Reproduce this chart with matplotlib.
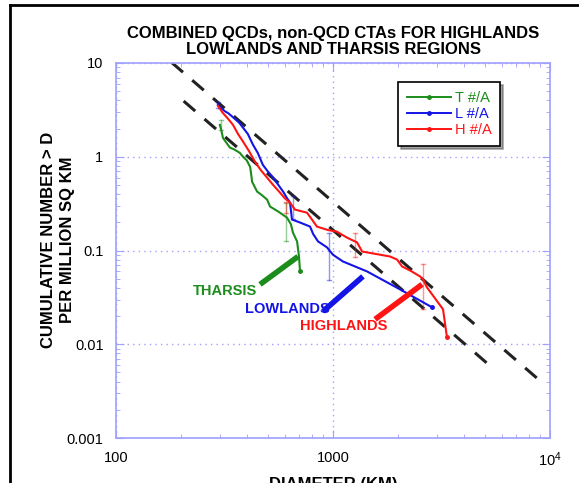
import numpy as np
import matplotlib
matplotlib.use("Agg")
import matplotlib.pyplot as plt
from matplotlib.lines import Line2D
from matplotlib.ticker import FixedLocator, FixedFormatter, LogLocator, NullFormatter

plt.rcParams['font.family'] = ['Liberation Sans', 'DejaVu Sans']

# cumulative curves (diameter km, number > D per million sq km)
t_d = [301, 306, 311, 322, 335, 350, 372, 385, 400, 415, 420, 424, 447, 470, 497, 513, 560, 614, 640,
       654, 683, 697, 705]
t_n = [2.19, 1.9, 1.59, 1.42, 1.25, 1.2, 1.10, 1.0, 0.92, 0.78, 0.64, 0.54, 0.425, 0.39, 0.349, 0.294,
       0.26, 0.224, 0.19, 0.155, 0.125, 0.0863, 0.0598]

l_d = [295, 305, 318, 330, 352, 370, 385, 405, 428, 450, 475, 500, 530, 560, 589, 610, 634, 647, 700,
       784, 810, 853, 938, 1000, 1111, 1435, 2036, 2858]
l_n = [3.57, 3.3, 3.05, 2.9, 2.55, 2.3, 2.04, 1.75, 1.34, 1.1, 0.82, 0.7, 0.6, 0.5, 0.425, 0.37, 0.324,
       0.214, 0.2, 0.18, 0.15, 0.125, 0.108, 0.09, 0.0764, 0.0598, 0.0385, 0.0248]

h_d = [295, 310, 328, 346, 365, 385, 410, 437, 465, 497, 530, 570, 600, 634, 668, 759, 800, 843, 950,
       1042, 1161, 1291, 1362, 1833, 1974, 2080, 2300, 2518, 2600, 2711, 3214, 3350]
h_n = [3.49, 2.95, 2.55, 2.19, 1.75, 1.45, 1.15, 0.885, 0.72, 0.598, 0.5, 0.414, 0.36, 0.324, 0.273,
       0.253, 0.214, 0.18, 0.165, 0.159, 0.137, 0.122, 0.0975, 0.0863, 0.080, 0.0676, 0.06, 0.0529,
       0.0491, 0.0404, 0.0236, 0.0119]

# error bars: diameter, low, high
t_err_d = [304, 607]
t_err_lo = [1.94, 0.125]
t_err_hi = [2.48, 0.324]
l_err_d = [295, 654, 959]
l_err_lo = [3.32, 0.219, 0.049]
l_err_hi = [3.85, 0.385, 0.155]
h_err_d = [607, 1262, 2600]
h_err_lo = [0.254, 0.0843, 0.0236]
h_err_hi = [0.332, 0.155, 0.071]

# reference slope -2 lines: N = C * D^-2
ref_c = [3.3e5, 1.65e5]
ref_dmin = [180, 205]
ref_dmax = [9000, 5600]

green = '#1c8c1c'
blue = '#1414e6'
red = '#ff1414'
axcol = '#a0a0ff'

fig = plt.figure(figsize=(5.79, 4.83), dpi=100)
ax = fig.add_axes([116 / 579, 1 - 438 / 483, 434 / 579, 375 / 483])
ax.set_xscale('log')
ax.set_yscale('log')
ax.set_xlim(100, 1e4)
ax.set_ylim(0.001, 10)

for c, d0, d1 in zip(ref_c, ref_dmin, ref_dmax):
    d = np.array([d0, d1], dtype=float)
    ax.plot(d, c / d ** 2, color='#222222', lw=2.2, dashes=(5, 4), zorder=2)


def errs(dd, lo, hi, col):
    for x, a, b in zip(dd, lo, hi):
        ax.plot([x, x], [a, b], color=col, lw=1, alpha=0.45, zorder=3)
        for y in (a, b):
            ax.plot([x / 1.02, x * 1.02], [y, y], color=col, lw=1, alpha=0.45, zorder=3)


errs(t_err_d, t_err_lo, t_err_hi, green)
errs(l_err_d, l_err_lo, l_err_hi, blue)
errs(h_err_d, h_err_lo, h_err_hi, red)

series = [(t_d, t_n, green, 'T #/A'), (l_d, l_n, blue, 'L #/A'), (h_d, h_n, red, 'H #/A')]
handles = []
for dd, nn, col, lab in series:
    ax.plot(dd, nn, color=col, lw=1.5, marker='o', ms=2.5, markevery=[len(dd) - 1], zorder=4)
    handles.append(Line2D([], [], color=col, lw=1.4, marker='o', ms=2.5, label=lab))

# region labels with leader lines
names = ['THARSIS', 'LOWLANDS', 'HIGHLANDS']
name_cols = [green, blue, red]
name_xy = [(318, 0.0366), (614, 0.0236), (1124, 0.0155)]
lead_a = [(461, 0.0435), (899, 0.0224), (1563, 0.01845)]
lead_b = [(690, 0.0863), (1374, 0.0529), (2573, 0.0435)]
for nm, col, xy, a, b in zip(names, name_cols, name_xy, lead_a, lead_b):
    ax.text(xy[0], xy[1], nm, color=col, fontsize=10.5, fontweight='bold', ha='center', va='center')
    ax.plot([a[0], b[0]], [a[1], b[1]], color=col, lw=4, solid_capstyle='butt', zorder=6)

ax.xaxis.set_major_locator(FixedLocator([100, 1000, 10000]))
ax.xaxis.set_major_formatter(FixedFormatter(['100', '1000', r'$\mathregular{10^4}$']))
ax.xaxis.set_minor_locator(LogLocator(base=10, subs=np.arange(2, 10)))
ax.xaxis.set_minor_formatter(NullFormatter())
ax.yaxis.set_major_locator(FixedLocator([0.001, 0.01, 0.1, 1, 10]))
ax.yaxis.set_major_formatter(FixedFormatter(['0.001', '0.01', '0.1', '1', '10']))
ax.yaxis.set_minor_locator(LogLocator(base=10, subs=np.arange(2, 10)))
ax.yaxis.set_minor_formatter(NullFormatter())
ax.tick_params(which='both', direction='in', top=True, right=True, color=axcol, labelsize=10.5, pad=9)
ax.tick_params(which='major', length=6)
ax.tick_params(which='minor', length=3)
for s in ax.spines.values():
    s.set_color(axcol)
    s.set_linewidth(1.2)
ax.grid(which='major', color=axcol, ls=(0, (1, 3)), lw=1)

leg = ax.legend(handles=handles, loc='upper left', bbox_to_anchor=((398 - 116) / 434, (438 - 82) / 375),
                borderaxespad=0, fancybox=False, shadow=True, edgecolor='black', fontsize=10.5,
                labelcolor='linecolor', handlelength=3, numpoints=1, borderpad=0.6, handletextpad=0.3,
                labelspacing=0.15, framealpha=1)
leg.get_frame().set_linewidth(1.2)

fig.text(333 / 579, 1 - 41.5 / 483, 'COMBINED QCDs, non-QCD CTAs FOR HIGHLANDS\nLOWLANDS AND THARSIS REGIONS',
         ha='center', va='center', fontsize=12, fontweight='bold', linespacing=1.15)
fig.text(58 / 579, 1 - 240 / 483, 'CUMULATIVE NUMBER > D\nPER MILLION SQ KM', rotation=90,
         ha='center', va='center', fontsize=12, fontweight='bold', linespacing=1.35)
fig.text(333 / 579, 1 - 484 / 483, 'DIAMETER (KM)', ha='center', va='center', fontsize=12, fontweight='bold')

# slide frame
fig.add_artist(Line2D([10 / 579, 10 / 579], [0, 1 - 5 / 483], color='black', lw=2, transform=fig.transFigure))
fig.add_artist(Line2D([10 / 579, 1], [1 - 5 / 483, 1 - 5 / 483], color='black', lw=2, transform=fig.transFigure))

fig.savefig('out.png', dpi=100)
